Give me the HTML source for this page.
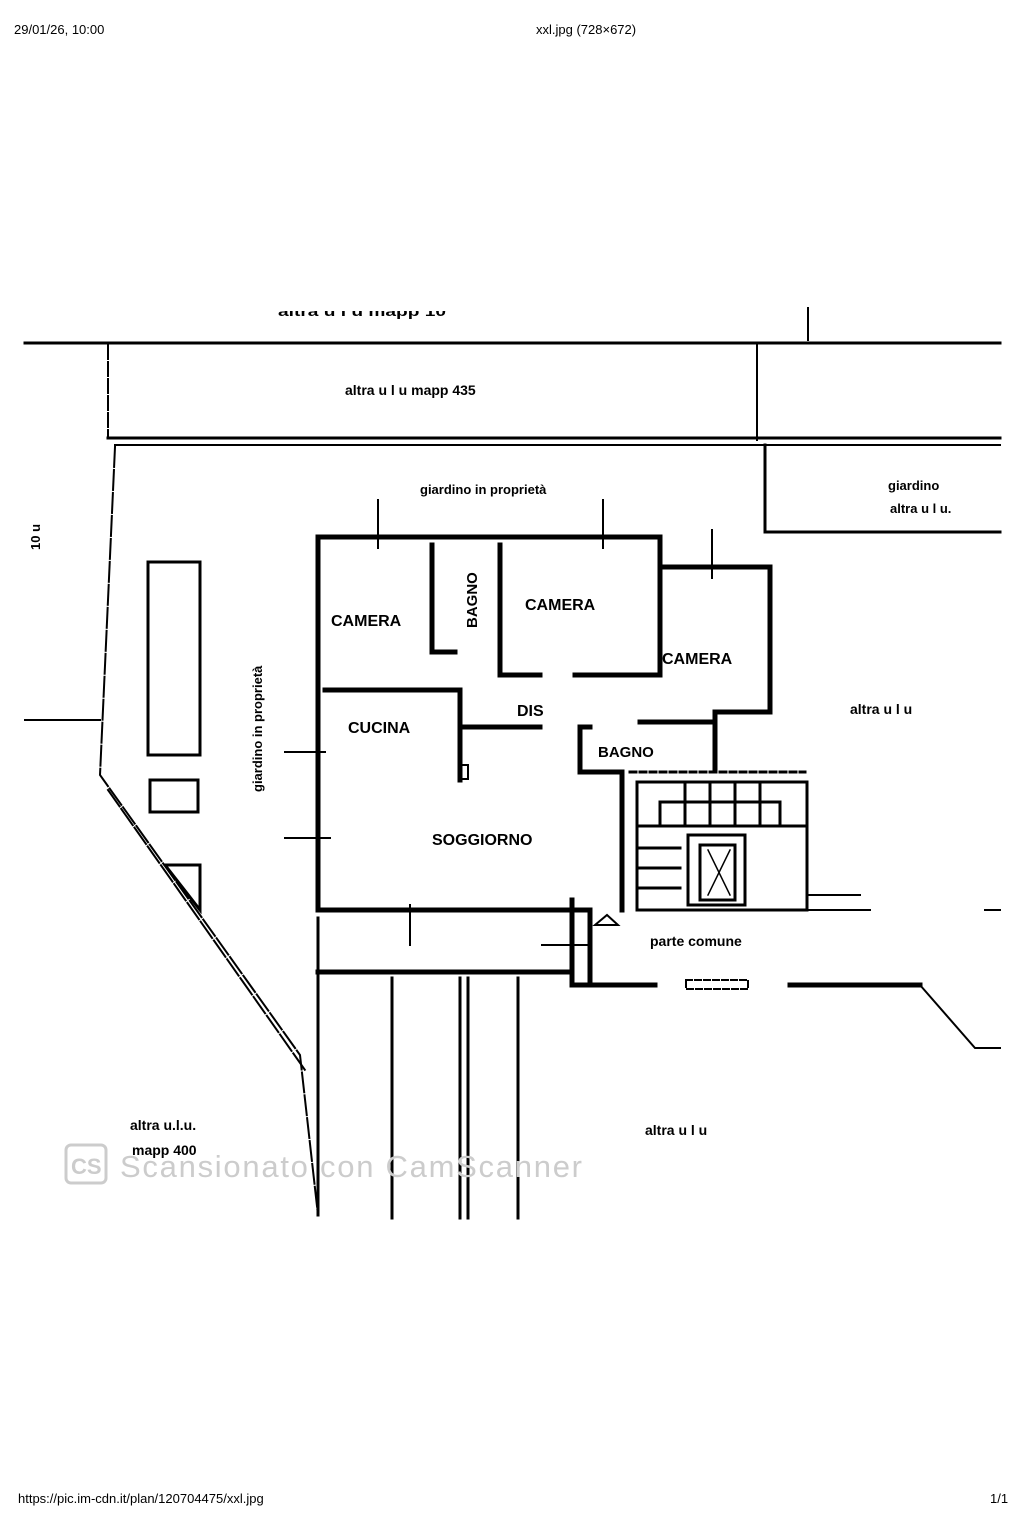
<!DOCTYPE html>
<html><head><meta charset="utf-8"><style>
body{margin:0;background:#fff;width:1024px;height:1536px;overflow:hidden;font-family:"Liberation Sans",sans-serif}
svg{position:absolute;left:0;top:0}
</style></head><body>
<svg width="1024" height="1536" viewBox="0 0 1024 1536">
<g font-family="Liberation Sans, sans-serif" fill="#000">
<text x="14" y="34" font-size="13">29/01/26, 10:00</text>
<text x="536" y="34" font-size="13">xxl.jpg (728×672)</text>
<text x="18" y="1503" font-size="13">https://pic.im-cdn.it/plan/120704475/xxl.jpg</text>
<text x="990" y="1503" font-size="13">1/1</text>
</g>
<g stroke="#000" fill="none" stroke-linecap="square">
<line x1="808" y1="308" x2="808" y2="340" stroke-width="2"/>
<line x1="25" y1="343" x2="1000" y2="343" stroke-width="3"/>
<line x1="108" y1="345" x2="108" y2="438" stroke-width="2" stroke-dasharray="14,3"/>
<line x1="757" y1="345" x2="757" y2="440" stroke-width="2"/>
<line x1="108" y1="438" x2="1000" y2="438" stroke-width="3"/>
<line x1="115" y1="445" x2="1000" y2="445" stroke-width="2"/>
<polyline points="115,447 100,775 300,1055 318,1215" stroke-width="2" stroke-dasharray="20,3"/>
<polyline points="108,790 305,1070" stroke-width="2" stroke-dasharray="20,3"/>
<line x1="25" y1="720" x2="100" y2="720" stroke-width="2"/>
<rect x="148" y="562" width="52" height="193" stroke-width="3"/>
<rect x="150" y="780" width="48" height="32" stroke-width="3"/>
<polygon points="165,865 200,865 200,910" stroke-width="3"/>
<line x1="765" y1="445" x2="765" y2="532" stroke-width="3"/>
<line x1="765" y1="532" x2="1000" y2="532" stroke-width="3"/>
<g stroke-width="5">
<polyline points="318,910 318,537 660,537 660,567 770,567 770,712 715,712 715,770"/>
<line x1="318" y1="910" x2="590" y2="910"/>
<line x1="325" y1="690" x2="460" y2="690"/>
<line x1="460" y1="690" x2="460" y2="780"/>
<line x1="460" y1="727" x2="540" y2="727"/>
<polyline points="540,675 500,675 500,545"/>
<polyline points="575,675 660,675 660,545"/>
<polyline points="432,545 432,652 455,652"/>
<polyline points="590,727 580,727 580,772 622,772 622,910"/>
<polyline points="640,722 710,722"/>
<line x1="590" y1="910" x2="590" y2="985"/>
<polyline points="572,900 572,985 655,985"/>
<line x1="318" y1="972" x2="570" y2="972"/>
<line x1="790" y1="985" x2="920" y2="985"/>
</g>
<rect x="461" y="765" width="7" height="14" stroke-width="2"/>
<line x1="318" y1="918" x2="318" y2="1215" stroke-width="3"/>
<line x1="392" y1="978" x2="392" y2="1218" stroke-width="3"/>
<line x1="460" y1="978" x2="460" y2="1218" stroke-width="3"/>
<line x1="468" y1="978" x2="468" y2="1218" stroke-width="3"/>
<line x1="518" y1="978" x2="518" y2="1218" stroke-width="3"/>
<rect x="686" y="980" width="62" height="9" stroke-width="2" stroke-dasharray="6,3"/>
<polyline points="920,985 975,1048 1000,1048" stroke-width="2"/>
<polyline points="985,910 1000,910" stroke-width="2"/>
<line x1="808" y1="895" x2="860" y2="895" stroke-width="2"/>
<line x1="800" y1="910" x2="870" y2="910" stroke-width="2"/>
<g stroke-width="3">
<line x1="630" y1="772" x2="805" y2="772" stroke-dasharray="6,4"/>
<rect x="637" y="782" width="170" height="128"/>
<line x1="637" y1="826" x2="805" y2="826"/>
<polyline points="660,826 660,802 780,802 780,826"/>
<line x1="685" y1="782" x2="685" y2="826"/><line x1="710" y1="782" x2="710" y2="826"/><line x1="735" y1="782" x2="735" y2="826"/><line x1="760" y1="782" x2="760" y2="826"/>
<line x1="637" y1="848" x2="680" y2="848"/><line x1="637" y1="868" x2="680" y2="868"/><line x1="637" y1="888" x2="680" y2="888"/>
<rect x="688" y="835" width="57" height="70"/>
<rect x="700" y="845" width="35" height="55"/>
<line x1="708" y1="850" x2="730" y2="895" stroke-width="1.5"/><line x1="730" y1="850" x2="708" y2="895" stroke-width="1.5"/>
</g>
<g stroke-width="2">
<line x1="378" y1="500" x2="378" y2="548"/><line x1="603" y1="500" x2="603" y2="548"/><line x1="712" y1="530" x2="712" y2="578"/>
<line x1="285" y1="752" x2="325" y2="752"/><line x1="285" y1="838" x2="330" y2="838"/>
<line x1="410" y1="905" x2="410" y2="945"/><line x1="542" y1="945" x2="590" y2="945"/>
</g>
<path d="M595,925 L607,915 L618,925 Z" stroke-width="2"/>
</g>
<g font-family="Liberation Sans, sans-serif" font-weight="bold" fill="#000">
<text x="278" y="316" font-size="14" textLength="168" lengthAdjust="spacingAndGlyphs">altra u l u  mapp 10</text>
<rect x="270" y="296" width="185" height="15" fill="#fff"/>
<text x="345" y="395" font-size="14">altra u l u  mapp 435</text>
<text x="420" y="494" font-size="13">giardino in proprietà</text>
<text x="888" y="490" font-size="13">giardino</text>
<text x="890" y="513" font-size="13">altra u l u.</text>
<text x="331" y="626" font-size="16">CAMERA</text>
<text x="525" y="610" font-size="16">CAMERA</text>
<text x="662" y="664" font-size="16">CAMERA</text>
<text transform="translate(477,628) rotate(-90)" font-size="15">BAGNO</text>
<text x="348" y="733" font-size="16">CUCINA</text>
<text x="517" y="716" font-size="16">DIS</text>
<text x="598" y="757" font-size="15">BAGNO</text>
<text x="432" y="845" font-size="16">SOGGIORNO</text>
<text x="650" y="946" font-size="14">parte comune</text>
<text x="850" y="714" font-size="14">altra u l u</text>
<text x="645" y="1135" font-size="14">altra u l u</text>
<text x="130" y="1130" font-size="14">altra u.l.u.</text>
<text x="132" y="1155" font-size="14">mapp 400</text>
<text transform="translate(262,792) rotate(-90)" font-size="13">giardino in proprietà</text>
<text transform="translate(40,550) rotate(-90)" font-size="13">10 u</text>
</g>
<g fill="#ccc" font-family="Liberation Sans, sans-serif">
<rect x="66" y="1145" width="40" height="38" rx="5" fill="none" stroke="#ccc" stroke-width="3"/>
<text x="71" y="1174" font-size="22" font-weight="bold">CS</text>
<text x="120" y="1177" font-size="31" textLength="462" lengthAdjust="spacing">Scansionato con CamScanner</text>
</g>
</svg>
</body></html>
